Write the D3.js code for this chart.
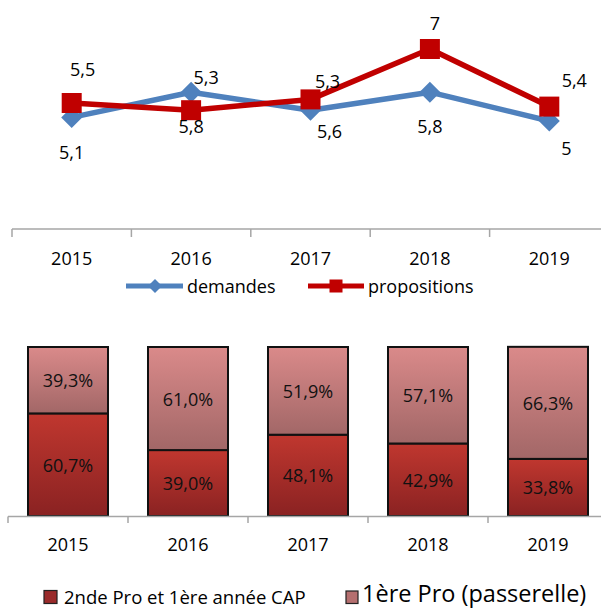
<!DOCTYPE html>
<html>
<head>
<meta charset="utf-8">
<script src="https://cdn.jsdelivr.net/npm/d3@7/dist/d3.min.js"></script>
<style>
  html, body { margin: 0; padding: 0; background: #fff; }
  svg { display: block; font-family: "Open Sans", "DejaVu Sans", sans-serif; }
</style>
</head>
<body>
<svg id="chart" width="601" height="608"></svg>
<script>
// ---------- DATA ----------
const years = ["2015", "2016", "2017", "2018", "2019"];
const demandes = [5.1, 5.8, 5.3, 5.8, 5.0];
const propositions = [5.5, 5.3, 5.6, 7.0, 5.4];
const lineSeriesNames = ["demandes", "propositions"];

const secondePro = [60.7, 39.0, 48.1, 42.9, 33.8];   // 2nde Pro et 1ère année CAP
const premierePro = [39.3, 61.0, 51.9, 57.1, 66.3];  // 1ère Pro (passerelle)
const barSeriesNames = ["2nde Pro et 1ère année CAP", "1ère Pro (passerelle)"];

// ---------- LAYOUT / STYLE ----------
const svg = d3.select("#chart");
const locale = d3.formatLocale({decimal: ",", thousands: " ", grouping: [3], currency: ["", "€"]});
const fmtLine = locale.format(".1~f");
const fmtPct = v => locale.format(".1f")(v) + "%";

const blue = "#4f81bd", red = "#c00000", axisGrey = "#a6a6a6";

// label placements (dx, dy relative to point; baseline)
const demLabelOff = [[0, 42], [0, 41], [17, -22], [0, 41], [17, 34]];
const propLabelOff = [[11, -27], [15, -26], [19, 39], [5, -19], [25, -20]];

// ================= LINE CHART =================
const xl = d3.scaleBand().domain(years).range([12, 609]);
const yl = d3.scaleLinear().domain([2, 8]).range([229, 13]);
const cx = d => xl(d) + xl.bandwidth() / 2;

const gLine = svg.append("g");

// axis
gLine.append("line").attr("x1", 12).attr("x2", 601).attr("y1", 229).attr("y2", 229)
  .attr("stroke", axisGrey).attr("stroke-width", 1.5);
gLine.selectAll(".tk").data(years).join("line")
  .attr("x1", d => xl(d)).attr("x2", d => xl(d)).attr("y1", 229).attr("y2", 237)
  .attr("stroke", axisGrey).attr("stroke-width", 1.5);
gLine.selectAll(".yr").data(years).join("text")
  .attr("x", d => cx(d)).attr("y", 265).attr("text-anchor", "middle")
  .attr("font-size", 18).attr("fill", "#000").text(d => d);

const line = d3.line().x((d, i) => cx(years[i])).y(d => yl(d));

// demandes series
gLine.append("path").datum(demandes).attr("d", line).attr("fill", "none")
  .attr("stroke", blue).attr("stroke-width", 5.5).attr("stroke-linejoin", "round");
gLine.selectAll(".dia").data(demandes).join("path")
  .attr("transform", (d, i) => `translate(${cx(years[i])},${yl(d)})`)
  .attr("d", "M0,-10.5L10.5,0L0,10.5L-10.5,0Z").attr("fill", blue);

// propositions series
gLine.append("path").datum(propositions).attr("d", line).attr("fill", "none")
  .attr("stroke", red).attr("stroke-width", 5.5).attr("stroke-linejoin", "round");
gLine.selectAll(".sq").data(propositions).join("rect")
  .attr("x", (d, i) => cx(years[i]) - 10).attr("y", d => yl(d) - 10)
  .attr("width", 20).attr("height", 20).attr("fill", red);

// labels
gLine.selectAll(".dl").data(demandes).join("text")
  .attr("x", (d, i) => cx(years[i]) + demLabelOff[i][0])
  .attr("y", (d, i) => yl(d) + demLabelOff[i][1])
  .attr("text-anchor", "middle").attr("font-size", 18).attr("fill", "#000")
  .text(d => fmtLine(d));
gLine.selectAll(".pl").data(propositions).join("text")
  .attr("x", (d, i) => cx(years[i]) + propLabelOff[i][0])
  .attr("y", (d, i) => yl(d) + propLabelOff[i][1])
  .attr("text-anchor", "middle").attr("font-size", 18).attr("fill", "#000")
  .text(d => fmtLine(d));

// legend
const lg = gLine.append("g");
lg.append("line").attr("x1", 126).attr("x2", 183).attr("y1", 286).attr("y2", 286)
  .attr("stroke", blue).attr("stroke-width", 5);
lg.append("path").attr("transform", "translate(155,286)")
  .attr("d", "M0,-7L7,0L0,7L-7,0Z").attr("fill", blue);
lg.append("text").attr("x", 187).attr("y", 293).attr("font-size", 18).text(lineSeriesNames[0]);
lg.append("line").attr("x1", 308).attr("x2", 364).attr("y1", 286).attr("y2", 286)
  .attr("stroke", red).attr("stroke-width", 5);
lg.append("rect").attr("x", 329.5).attr("y", 279.5).attr("width", 13).attr("height", 13).attr("fill", red);
lg.append("text").attr("x", 368).attr("y", 293).attr("font-size", 18).text(lineSeriesNames[1]);

// ================= BAR CHART =================
const defs = svg.append("defs");
function grad(id, c1, c2) {
  const g = defs.append("linearGradient").attr("id", id)
    .attr("x1", 0).attr("y1", 0).attr("x2", 0).attr("y2", 1);
  g.append("stop").attr("offset", "0%").attr("stop-color", c1);
  g.append("stop").attr("offset", "100%").attr("stop-color", c2);
}
grad("gBot", "#c0372f", "#8a2222");
grad("gTop", "#da8a8a", "#a26767");

const xb = d3.scaleBand().domain(years).range([8, 608]).paddingInner(1 / 3).paddingOuter(1 / 6);
const yb = d3.scaleLinear().domain([0, 100]).range([516, 347]);

const rows = years.map((y, i) => ({year: y, a: secondePro[i], b: premierePro[i]}));
const stack = d3.stack().keys(["a", "b"])(rows);

const gBar = svg.append("g");
const fills = ["url(#gBot)", "url(#gTop)"];
stack.forEach((layer, li) => {
  gBar.selectAll(".s" + li).data(layer).join("rect")
    .attr("x", d => xb(d.data.year)).attr("width", xb.bandwidth())
    .attr("y", d => yb(d[1])).attr("height", d => yb(d[0]) - yb(d[1]))
    .attr("fill", fills[li]).attr("stroke", "#111").attr("stroke-width", 2);
});
stack.forEach((layer, li) => {
  gBar.selectAll(".t" + li).data(layer).join("text")
    .attr("x", d => xb(d.data.year) + xb.bandwidth() / 2)
    .attr("y", d => (yb(d[0]) + yb(d[1])) / 2 + 7)
    .attr("text-anchor", "middle").attr("font-size", 18).attr("fill", "#111")
    .text(d => fmtPct(d[1] - d[0]));
});

// bottom axis
gBar.append("line").attr("x1", 8).attr("x2", 601).attr("y1", 516.5).attr("y2", 516.5)
  .attr("stroke", axisGrey).attr("stroke-width", 1.5);
const bstep = xb.step();
gBar.selectAll(".btk").data(years).join("line")
  .attr("x1", (d, i) => 8 + i * bstep).attr("x2", (d, i) => 8 + i * bstep)
  .attr("y1", 516.5).attr("y2", 523)
  .attr("stroke", axisGrey).attr("stroke-width", 1.5);
gBar.selectAll(".byr").data(years).join("text")
  .attr("x", d => xb(d) + xb.bandwidth() / 2).attr("y", 551).attr("text-anchor", "middle")
  .attr("font-size", 18).attr("fill", "#000").text(d => d);

// bar legend
const bl = svg.append("g");
bl.append("rect").attr("x", 44).attr("y", 590.5).attr("width", 13).attr("height", 13)
  .attr("fill", "#9a2b2b").attr("stroke", "#222").attr("stroke-width", 1.2);
bl.append("text").attr("x", 64).attr("y", 603.5).attr("font-size", 18.5).text(barSeriesNames[0]);
bl.append("rect").attr("x", 346).attr("y", 591).attr("width", 12).attr("height", 12.5)
  .attr("fill", "#b56f6f").attr("stroke", "#222").attr("stroke-width", 1.2);
bl.append("text").attr("x", 362).attr("y", 602).attr("font-size", 23.5).text(barSeriesNames[1]);
</script>
</body>
</html>
